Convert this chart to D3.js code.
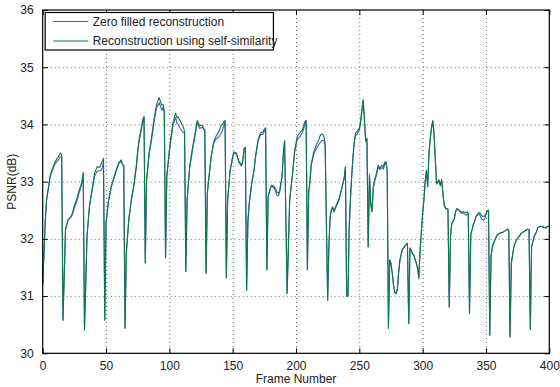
<!DOCTYPE html>
<html>
<head>
<meta charset="utf-8">
<script src="https://cdn.jsdelivr.net/npm/d3@7/dist/d3.min.js"></script>
<style>
  body { margin: 0; background: #fff; }
  text { font-family: "Liberation Sans", Arial, sans-serif; }
</style>
</head>
<body>
<div id="chart"></div>
<script>
const frames = [
  0,2,3,6,8,10,12,14,15,16,
  18,20,22,23,25,27,29,31,32,33,
  35,37,39,41,43,45,46,47,48,49,
  50,52,54,56,58,60,62,63,64,65,
  66,68,70,72,74,75,76,77,79,80,81,
  82,84,86,88,90,92,93,94,95,96,97,
  98,100,101,103,105,106,107,108,109,110,111,112,113,
  114,116,118,120,122,123,124,125,126,127,128,129,
  130,131,133,135,137,139,141,142,143,144,145,
  146,148,150,151,153,155,157,158,159,160,161,
  162,163,165,167,168,170,172,174,175,176,177,
  178,180,181,183,185,186,187,189,190,191,193,
  195,197,199,201,203,205,206,207,208,209,
  210,211,212,214,216,218,219,220,221,222,223,225,
  226,227,228,229,230,232,234,236,238,239,240,241,
  242,243,244,245,246,247,248,250,251,253,254,255,256,257,
  258,259,260,261,262,263,264,265,266,267,268,269,270,271,272,273,
  274,275,276,277,278,279,280,281,282,284,286,287,288,289,
  290,291,292,293,294,295,296,297,298,300,301,302,303,304,305,306,307,308,309,310,
  311,312,313,314,315,316,317,318,319,320,321,
  322,323,325,326,327,329,331,332,334,335,336,337,
  338,340,341,342,344,345,346,347,348,349,350,351,352,353,
  354,355,357,359,361,363,365,367,368,369,
  370,372,374,376,378,380,382,383,384,385,
  386,388,390,391,393,395,397,399,400
];

// PSNR (dB), reconstruction using self-similarity
const selfSimilarity = [
  31.2,32.3,32.68,33.12,33.24,33.36,33.42,33.5,33.47,30.58,
  32.16,32.33,32.38,32.42,32.58,32.71,32.86,33.0,33.16,30.41,
  32.05,32.6,32.87,33.15,33.26,33.25,33.3,33.35,33.41,30.58,
  32.28,32.68,32.91,33.06,33.2,33.33,33.38,33.3,33.28,30.44,
  31.75,32.35,32.7,32.95,33.3,33.55,33.72,33.85,34.08,34.14,31.58,
  33.03,33.5,33.78,34.11,34.35,34.47,34.4,34.34,34.35,34.25,31.67,
  33.1,33.55,33.73,34.05,34.2,34.12,34.13,34.08,34.05,33.99,33.96,33.87,31.43,
  32.68,33.25,33.55,33.8,34.07,34.02,33.97,33.99,33.98,33.93,33.9,31.4,
  32.8,33.03,33.44,33.7,33.8,33.87,33.99,34.0,34.05,34.07,31.32,
  32.68,33.2,33.44,33.52,33.5,33.35,33.29,33.38,33.58,33.6,31.1,
  32.3,32.6,32.97,33.23,33.44,33.73,33.85,33.87,33.92,33.94,31.46,
  32.74,32.91,32.94,32.91,32.82,32.8,32.83,33.1,33.5,33.72,31.05,
  32.68,33.09,33.55,33.79,33.85,33.91,33.98,34.05,34.07,31.46,
  32.8,33.0,33.3,33.52,33.64,33.73,33.8,33.83,33.83,33.79,33.67,30.93,
  31.9,32.4,32.52,32.56,32.49,32.6,32.7,32.88,33.06,33.26,31.0,31.0,
  32.2,32.7,33.1,33.44,33.7,33.85,33.87,33.93,34.05,34.43,34.1,33.72,33.76,31.86,
  33.12,32.62,32.48,32.9,33.03,33.1,33.2,33.29,33.24,33.26,33.29,33.26,33.33,33.35,33.2,30.44,
  31.63,31.57,31.4,31.2,31.06,31.05,31.12,31.4,31.63,31.82,31.88,31.91,31.92,30.52,
  31.84,31.8,31.74,31.72,31.65,31.58,31.5,31.34,31.8,32.45,32.68,33.0,33.2,32.91,33.5,33.75,33.95,34.07,33.85,33.4,
  32.97,33.0,33.03,32.94,33.04,32.8,32.6,32.54,32.53,32.52,30.81,
  32.04,32.27,32.35,32.48,32.53,32.5,32.46,32.48,32.46,32.47,32.45,30.7,
  32.07,32.25,32.3,32.39,32.45,32.46,32.42,32.4,32.39,32.4,32.45,32.49,32.5,30.32,
  31.69,31.86,31.98,32.07,32.1,32.11,32.14,32.17,32.14,30.29,
  31.57,31.86,31.98,32.04,32.1,32.13,32.16,32.17,32.16,30.42,
  31.86,32.04,32.13,32.2,32.22,32.21,32.19,32.22,32.22
];

// PSNR (dB), zero filled reconstruction
const zeroFilled = [
  31.2,32.3,32.66,33.1,33.22,33.32,33.37,33.43,33.42,30.58,
  32.16,32.33,32.37,32.4,32.54,32.66,32.82,32.97,33.14,30.41,
  32.05,32.58,32.84,33.1,33.18,33.19,33.2,33.24,33.34,30.58,
  32.28,32.66,32.89,33.04,33.18,33.31,33.36,33.3,33.27,30.44,
  31.75,32.33,32.67,32.92,33.26,33.5,33.68,33.8,34.04,34.12,31.58,
  33.02,33.47,33.74,34.06,34.3,34.38,34.32,34.25,34.3,34.2,31.67,
  33.08,33.52,33.7,34.0,34.12,34.02,34.0,33.95,33.92,33.88,33.86,33.84,31.43,
  32.67,33.23,33.52,33.77,34.04,33.98,33.93,33.94,33.95,33.92,33.9,31.4,
  32.8,33.02,33.42,33.67,33.75,33.78,33.85,33.9,33.97,34.05,31.32,
  32.68,33.19,33.42,33.5,33.48,33.33,33.27,33.36,33.56,33.6,31.1,
  32.3,32.6,32.96,33.21,33.42,33.7,33.82,33.83,33.88,33.93,31.46,
  32.73,32.9,32.92,32.88,32.76,32.75,32.8,33.08,33.48,33.7,31.05,
  32.67,33.07,33.52,33.74,33.78,33.86,33.92,34.0,34.06,31.46,
  32.8,33.0,33.28,33.48,33.57,33.65,33.68,33.71,33.72,33.72,33.62,30.93,
  31.9,32.4,32.5,32.53,32.47,32.58,32.68,32.86,33.05,33.24,31.0,31.0,
  32.2,32.7,33.1,33.43,33.68,33.8,33.82,33.9,34.03,34.42,34.1,33.7,33.74,31.86,
  33.1,32.6,32.47,32.88,33.0,33.07,33.17,33.26,33.21,33.23,33.25,33.22,33.3,33.34,33.2,30.44,
  31.63,31.57,31.4,31.2,31.06,31.04,31.11,31.39,31.62,31.81,31.87,31.9,31.92,30.52,
  31.84,31.8,31.74,31.71,31.64,31.57,31.48,31.3,31.8,32.45,32.68,33.0,33.2,32.91,33.5,33.75,33.94,34.05,33.8,33.38,
  32.96,33.0,33.0,32.93,33.02,32.79,32.59,32.53,32.52,32.51,30.81,
  32.04,32.27,32.35,32.47,32.52,32.49,32.44,32.46,32.42,32.42,32.44,30.7,
  32.07,32.25,32.3,32.38,32.44,32.43,32.37,32.34,32.33,32.35,32.42,32.48,32.5,30.32,
  31.69,31.86,31.98,32.07,32.1,32.11,32.14,32.17,32.14,30.29,
  31.57,31.86,31.98,32.04,32.1,32.13,32.16,32.17,32.16,30.42,
  31.86,32.04,32.13,32.2,32.22,32.21,32.19,32.22,32.22
];

const xTicks = [0, 50, 100, 150, 200, 250, 300, 350, 400];
const yTicks = [30, 31, 32, 33, 34, 35, 36];
const seriesNames = ["Zero filled reconstruction", "Reconstruction using self-similarity"];
const seriesColors = ["#4a5cc0", "#0a7a44"];

const width = 560, height = 387;
const margin = { top: 10, right: 10.7, bottom: 33.7, left: 42.7 };
const innerW = width - margin.left - margin.right;
const innerH = height - margin.top - margin.bottom;

const svg = d3.select("#chart").append("svg")
  .attr("width", width)
  .attr("height", height);

const g = svg.append("g")
  .attr("transform", `translate(${margin.left},${margin.top})`);

const x = d3.scaleLinear().domain([0, 400]).range([0, innerW]);
const y = d3.scaleLinear().domain([30, 36]).range([innerH, 0]);

// dotted grid
g.append("g").selectAll("line")
  .data(xTicks.slice(1, -1))
  .enter().append("line")
  .attr("x1", d => x(d) + 0.5).attr("x2", d => x(d) + 0.5)
  .attr("y1", 0).attr("y2", innerH)
  .attr("stroke", "#444").attr("stroke-width", 0.8)
  .attr("stroke-dasharray", "1,3");

g.append("g").selectAll("line")
  .data(yTicks.slice(1, -1))
  .enter().append("line")
  .attr("y1", d => y(d) + 0.5).attr("y2", d => y(d) + 0.5)
  .attr("x1", 0).attr("x2", innerW)
  .attr("stroke", "#444").attr("stroke-width", 0.8)
  .attr("stroke-dasharray", "1,3");

// lines
const rows = frames.map((f, i) => ({ f: f, a: zeroFilled[i], b: selfSimilarity[i] }));

const lineA = d3.line().x(d => x(d.f)).y(d => y(d.a));
const lineB = d3.line().x(d => x(d.f)).y(d => y(d.b));

g.append("path").datum(rows)
  .attr("d", lineA)
  .attr("fill", "none")
  .attr("stroke", seriesColors[0])
  .attr("stroke-width", 1.1)
  .attr("stroke-linejoin", "round");

g.append("path").datum(rows)
  .attr("d", lineB)
  .attr("fill", "none")
  .attr("stroke", seriesColors[1])
  .attr("stroke-width", 1.1)
  .attr("stroke-linejoin", "round");

// axes, ticks pointing inward
const styleAxis = sel => {
  sel.select(".domain").remove();
  sel.selectAll(".tick line").attr("stroke", "#000");
  sel.selectAll(".tick text").attr("fill", "#222").style("font-size", "12px");
};

g.append("g")
  .attr("transform", `translate(0,${innerH})`)
  .call(d3.axisBottom(x).tickValues(xTicks).tickSize(-5).tickPadding(8).tickFormat(d3.format("d")))
  .call(styleAxis);

g.append("g")
  .call(d3.axisTop(x).tickValues(xTicks).tickSize(-5).tickFormat(""))
  .call(styleAxis);

g.append("g")
  .call(d3.axisLeft(y).tickValues(yTicks).tickSize(-5).tickPadding(9).tickFormat(d3.format("d")))
  .call(styleAxis);

g.append("g")
  .attr("transform", `translate(${innerW},0)`)
  .call(d3.axisRight(y).tickValues(yTicks).tickSize(-5).tickFormat(""))
  .call(styleAxis);

g.append("rect")
  .attr("x", 0).attr("y", 0)
  .attr("width", innerW).attr("height", innerH)
  .attr("fill", "none")
  .attr("stroke", "#000")
  .attr("stroke-width", 1.2);

// axis titles
svg.append("text")
  .attr("x", margin.left + innerW / 2)
  .attr("y", height - 4)
  .attr("text-anchor", "middle")
  .attr("fill", "#222")
  .style("font-size", "12px")
  .text("Frame Number");

svg.append("text")
  .attr("transform", `translate(16,${margin.top + innerH / 2}) rotate(-90)`)
  .attr("text-anchor", "middle")
  .attr("fill", "#222")
  .style("font-size", "12px")
  .text("PSNR(dB)");

// legend
const legend = g.append("g").attr("transform", "translate(2.5,2.5)");
const legendBox = legend.append("rect")
  .attr("fill", "#fff")
  .attr("stroke", "#000")
  .attr("stroke-width", 1.2);

const items = legend.selectAll(".item")
  .data(seriesNames)
  .enter().append("g")
  .attr("transform", (d, i) => `translate(0,${9 + i * 19.5})`);

items.append("line")
  .attr("x1", 8).attr("x2", 43)
  .attr("stroke", (d, i) => seriesColors[i])
  .attr("stroke-width", 1.1);

items.append("text")
  .attr("x", 47.5)
  .attr("dy", "0.36em")
  .attr("fill", "#222")
  .style("font-size", "12px")
  .text(d => d);

const bb = legend.node().getBBox();
legendBox
  .attr("x", 0).attr("y", 0)
  .attr("width", bb.width + 4)
  .attr("height", 37.5);
</script>
</body>
</html>
